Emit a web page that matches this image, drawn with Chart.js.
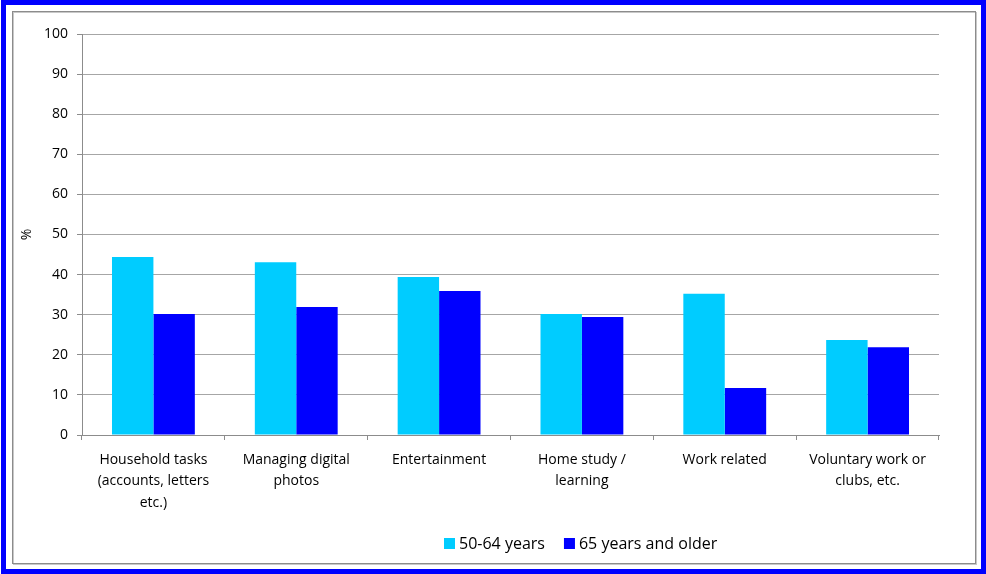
<!DOCTYPE html>
<html>
<head>
<meta charset="utf-8">
<title>Computer use by age group</title>
<script src="https://cdn.jsdelivr.net/npm/chart.js@4.4.1/dist/chart.umd.min.js"></script>
<style>
  html, body { margin: 0; padding: 0; background: #fff; }
  #wrap { width: 986px; height: 574px; position: relative; }
</style>
</head>
<body>
<div id="wrap"><canvas id="usageChart" width="986" height="574"></canvas></div>
<script>
// --- Data ---
const categories = [
    ['Household tasks', '(accounts, letters', 'etc.)'],
    ['Managing digital', 'photos'],
    ['Entertainment'],
    ['Home study /', 'learning'],
    ['Work related'],
    ['Voluntary work or', 'clubs, etc.']
];
const seriesNames = ['50-64 years', '65 years and older'];
const age50to64 = [44.4, 43.1, 39.4, 30.2, 35.2, 23.7];
const age65plus = [30.2, 31.9, 35.9, 29.4, 11.7, 21.9];
const yTicks = [0, 10, 20, 30, 40, 50, 60, 70, 80, 90, 100];

const COLORS = ['#00CCFF', '#0000FF'];
const FONT = '"Open Sans", Lato, sans-serif';

// --- Frame: blue outer border and grey inner box ---
const framePlugin = {
    id: 'frame',
    beforeDraw(chart) {
        const ctx = chart.ctx;
        ctx.save();
        ctx.fillStyle = '#ffffff';
        ctx.fillRect(0, 0, chart.width, chart.height);
        ctx.strokeStyle = '#0000FF';
        ctx.lineWidth = 5;
        ctx.strokeRect(3.5, 2.5, chart.width - 6, chart.height - 5);
        ctx.strokeStyle = '#c8c8c8';
        ctx.lineWidth = 1;
        ctx.strokeRect(13.5, 12.5, 963, 552);
        ctx.strokeStyle = '#8c8c8c';
        ctx.strokeRect(12.5, 11.5, 963, 552);
        ctx.restore();
    }
};

// --- Legend drawn below the axis labels ---
const legendPlugin = {
    id: 'bottomLegend',
    afterDraw(chart) {
        const ctx = chart.ctx;
        ctx.save();
        ctx.font = '16px ' + FONT;
        ctx.textBaseline = 'middle';
        ctx.textAlign = 'left';
        let x = 444;
        const y = 544;
        chart.data.datasets.forEach(function(ds) {
            ctx.fillStyle = ds.backgroundColor;
            ctx.fillRect(x, y - 6, 11, 11);
            x += 15;
            ctx.fillStyle = '#000';
            ctx.fillText(ds.label, x, y);
            x += ctx.measureText(ds.label).width + 19;
        });
        ctx.restore();
    }
};

const ctx = document.getElementById('usageChart').getContext('2d');
new Chart(ctx, {
    type: 'bar',
    data: {
        labels: categories,
        datasets: [
            { label: seriesNames[0], data: age50to64, backgroundColor: COLORS[0] },
            { label: seriesNames[1], data: age65plus, backgroundColor: COLORS[1] }
        ]
    },
    options: {
        responsive: false,
        animation: false,
        devicePixelRatio: 1,
        layout: { padding: { left: 12, right: 47, top: 34, bottom: 0 } },
        datasets: {
            bar: { categoryPercentage: 0.58, barPercentage: 1.0, borderWidth: 0 }
        },
        plugins: {
            legend: { display: false },
            tooltip: { enabled: false }
        },
        scales: {
            x: {
                grid: {
                    drawOnChartArea: false,
                    drawTicks: true,
                    tickLength: 5,
                    color: '#8c8c8c',
                    offset: true
                },
                border: { color: '#8c8c8c', width: 1 },
                ticks: {
                    color: '#000',
                    font: { family: FONT, size: 14, lineHeight: 1.54 },
                    padding: 9,
                    maxRotation: 0,
                    autoSkip: false
                },
                afterFit: function(scale) { scale.height = 139; }
            },
            y: {
                min: 0,
                max: 100,
                afterBuildTicks: function(scale) {
                    scale.ticks = yTicks.map(v => ({ value: v }));
                },
                grid: {
                    color: '#a6a6a6',
                    tickLength: 5,
                    tickColor: '#8c8c8c'
                },
                border: { color: '#8c8c8c', width: 1 },
                ticks: {
                    color: '#000',
                    font: { family: FONT, size: 14 },
                    padding: 9
                },
                title: {
                    display: true,
                    text: '%',
                    color: '#000',
                    font: { family: FONT, size: 14 },
                    padding: { top: 7, bottom: 0 }
                },
                afterFit: function(scale) { scale.width = 70; }
            }
        }
    },
    plugins: [framePlugin, legendPlugin]
});
</script>
</body>
</html>
